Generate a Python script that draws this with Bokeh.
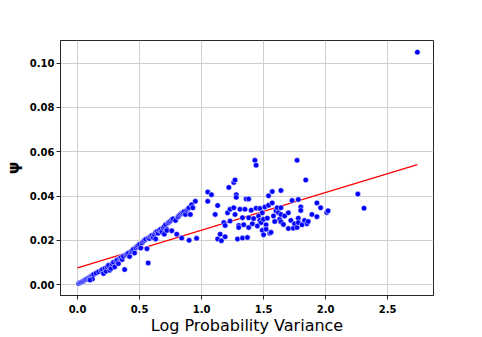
from bokeh.plotting import figure
from bokeh.models import Range1d, FixedTicker, PrintfTickFormatter
from bokeh.embed import file_html
from bokeh.resources import INLINE

# scatter data: log probability variance vs psi
log_prob_var = [
    0.01, 0.02, 0.03, 0.04, 0.05, 0.06, 0.07, 0.08, 0.09, 0.10, 0.11, 0.12, 0.13, 0.12, 0.10,
    0.15, 0.17, 0.19, 0.20, 0.21, 0.22, 0.23, 0.24, 0.25, 0.26, 0.27, 0.28, 0.29, 0.30, 0.31,
    0.32, 0.33, 0.34, 0.35, 0.36, 0.37, 0.38, 0.39, 0.40, 0.41, 0.42, 0.43, 0.44, 0.45, 0.46,
    0.47, 0.48, 0.49, 0.50, 0.51, 0.52, 0.53, 0.54, 0.55, 0.56, 0.57, 0.57, 0.58, 0.59, 0.60,
    0.61, 0.62, 0.63, 0.63, 0.64, 0.65, 0.66, 0.67, 0.68, 0.69, 0.70, 0.70, 0.71, 0.72, 0.72,
    0.73, 0.74, 0.75, 0.76, 0.76, 0.77, 0.79, 0.80, 0.81, 0.82, 0.83, 0.84, 0.84, 0.85, 0.86,
    0.87, 0.88, 0.89, 0.90, 0.90, 0.91, 0.92, 0.93, 0.95, 0.96,
    1.05, 1.08, 1.05, 1.13, 1.11, 1.13, 1.15, 1.16, 1.18, 1.19, 1.19, 1.21, 1.22, 1.23, 1.23,
    1.26, 1.27, 1.26, 1.27, 1.28, 1.28, 1.29, 1.30, 1.30, 1.31, 1.33, 1.33, 1.34, 1.35, 1.36,
    1.37, 1.38, 1.38, 1.38, 1.40, 1.41, 1.42, 1.43, 1.44, 1.44, 1.45, 1.46, 1.47, 1.47, 1.48,
    1.49, 1.49, 1.50, 1.50, 1.51, 1.52, 1.52, 1.53, 1.54, 1.54, 1.55, 1.56, 1.57, 1.57, 1.58,
    1.59, 1.60, 1.61, 1.62, 1.63, 1.64, 1.64, 1.64, 1.64, 1.66, 1.67, 1.70, 1.70, 1.72, 1.74,
    1.73, 1.75, 1.77, 1.77, 1.78, 1.78, 1.78, 1.80, 1.80, 1.81, 1.83, 1.84, 1.85, 1.86, 1.89,
    1.93, 1.93, 1.96, 2.01, 2.02, 2.26, 2.31, 2.74,
]
psi = [
    0.0005, 0.0008, 0.0011, 0.0014, 0.0017, 0.0021, 0.0024, 0.0027, 0.0031, 0.0034, 0.0036, 0.0042, 0.0046, 0.0025, 0.0021,
    0.0052, 0.0058, 0.0063, 0.0068, 0.0050, 0.0073, 0.0060, 0.0080, 0.0087, 0.0065, 0.0073, 0.0093, 0.0101, 0.0080, 0.0107,
    0.0112, 0.0095, 0.0118, 0.0122, 0.0113, 0.0128, 0.0068, 0.0134, 0.0138, 0.0143, 0.0127, 0.0148, 0.0153, 0.0160, 0.0143,
    0.0166, 0.0172, 0.0177, 0.0182, 0.0165, 0.0188, 0.0195, 0.0200, 0.0205, 0.0162, 0.0098, 0.0210, 0.0208, 0.0218, 0.0222,
    0.0213, 0.0225, 0.0235, 0.0206, 0.0240, 0.0232, 0.0246, 0.0250, 0.0238, 0.0256, 0.0262, 0.0228, 0.0270, 0.0250, 0.0244,
    0.0278, 0.0283, 0.0287, 0.0293, 0.0243, 0.0297, 0.0290, 0.0228, 0.0305, 0.0312, 0.0318, 0.0322, 0.0210, 0.0326, 0.0330,
    0.0317, 0.0335, 0.0342, 0.0347, 0.0200, 0.0317, 0.0361, 0.0347, 0.0376, 0.0209,
    0.0418, 0.0406, 0.0376, 0.0357, 0.0317, 0.0206, 0.0228, 0.0198, 0.0280, 0.0216, 0.0267, 0.0324, 0.0439, 0.0287, 0.0340,
    0.0461, 0.0472, 0.0347, 0.0317, 0.0406, 0.0394, 0.0206, 0.0267, 0.0258, 0.0340, 0.0302, 0.0210, 0.0270, 0.0340, 0.0387,
    0.0213, 0.0387, 0.0302, 0.0258, 0.0336, 0.0275, 0.0298, 0.0561, 0.0539, 0.0345, 0.0265, 0.0310, 0.0344, 0.0290, 0.0280,
    0.0324, 0.0245, 0.0295, 0.0225, 0.0350, 0.0270, 0.0250, 0.0300, 0.0401, 0.0358, 0.0232, 0.0236, 0.0420, 0.0369, 0.0310,
    0.0285, 0.0333, 0.0347, 0.0325, 0.0295, 0.0425, 0.0347, 0.0317, 0.0284, 0.0272, 0.0310, 0.0324, 0.0253, 0.0290, 0.0255,
    0.0380, 0.0275, 0.0561, 0.0258, 0.0384, 0.0300, 0.0280, 0.0350, 0.0335, 0.0270, 0.0290, 0.0472, 0.0275, 0.0285, 0.0317,
    0.0369, 0.0307, 0.0347, 0.0326, 0.0333, 0.0409, 0.0345, 0.1049,
]

# fitted regression line (end points)
fit_x = [0.0, 2.74]
fit_y = [0.0076, 0.0542]

x_ticks = [0.0, 0.5, 1.0, 1.5, 2.0, 2.5]
y_ticks = [0.00, 0.02, 0.04, 0.06, 0.08, 0.10]

p = figure(
    width=482, height=337,
    output_backend="svg", toolbar_location=None,
    x_range=Range1d(-0.137, 2.87), y_range=Range1d(-0.0049, 0.1102),
    min_border_left=60, min_border_right=49, min_border_top=40, min_border_bottom=36,
)
p.background_fill_color = "white"
p.border_fill_color = "white"
p.outline_line_color = "#262626"
p.outline_line_width = 1

p.line(fit_x, fit_y, line_color="red", line_width=1.2)
p.scatter(log_prob_var, psi, size=5.5, fill_color="#0000ff", line_color="white", line_width=0.5)

for ax in (p.xaxis[0], p.yaxis[0]):
    ax.major_label_text_font = "DejaVu Sans"
    ax.major_label_text_font_style = "bold"
    ax.major_label_text_font_size = "10px"
    ax.major_label_text_color = "black"
    ax.axis_label_text_font = "DejaVu Sans"
    ax.axis_label_text_color = "black"
    ax.axis_line_color = "#262626"
    ax.major_tick_line_color = "#262626"
    ax.major_tick_out = 4
    ax.major_tick_in = 0
    ax.minor_tick_line_color = None

p.xaxis.major_label_standoff = 5
p.yaxis.major_label_standoff = 2

p.xaxis.axis_label = "Log Probability Variance"
p.xaxis.axis_label_text_font_size = "16px"
p.xaxis.axis_label_text_font_style = "normal"
p.xaxis.axis_label_standoff = 0

p.yaxis.axis_label = "ψ"
p.yaxis.axis_label_text_font_size = "16px"
p.yaxis.axis_label_text_font_style = "bold"
p.yaxis.axis_label_standoff = 4

p.xaxis.ticker = FixedTicker(ticks=x_ticks)
p.yaxis.ticker = FixedTicker(ticks=y_ticks)
p.xaxis.formatter = PrintfTickFormatter(format="%.1f")
p.yaxis.formatter = PrintfTickFormatter(format="%.2f")

p.grid.grid_line_color = "#cfcfcf"
p.grid.grid_line_width = 1
p.xgrid.ticker = FixedTicker(ticks=x_ticks)
p.ygrid.ticker = FixedTicker(ticks=y_ticks)

open("out.html", "w").write(file_html(p, INLINE))
